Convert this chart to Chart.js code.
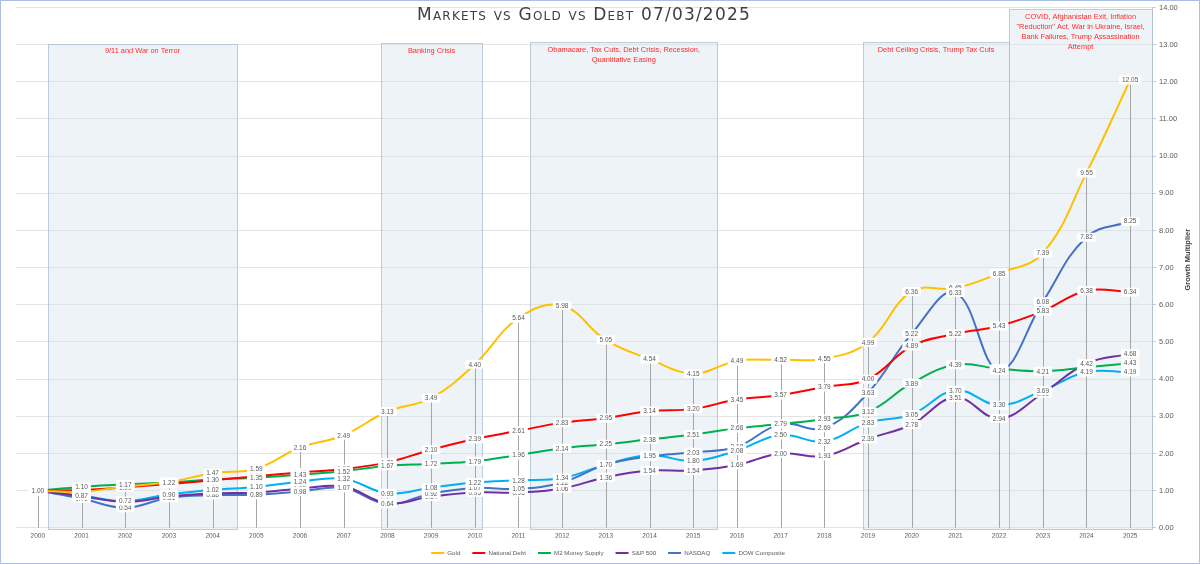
<!DOCTYPE html>
<html>
<head>
<meta charset="utf-8">
<title>Markets vs Gold vs Debt</title>
<script src="https://cdn.jsdelivr.net/npm/chart.js@4.4.1/dist/chart.umd.min.js"></script>
<style>
html, body { margin:0; padding:0; background:#fff; overflow:hidden; }
#wrap { width:1200px; height:564px; position:relative; }
</style>
</head>
<body>
<div id="wrap"><canvas id="growthChart" width="1200" height="564"></canvas></div>
<script>
// ==========================================
// Markets vs Gold vs Debt - growth since 2000
// ==========================================

const years = ["2000","2001","2002","2003","2004","2005","2006","2007","2008","2009","2010","2011","2012",
               "2013","2014","2015","2016","2017","2018","2019","2020","2021","2022","2023","2024","2025"];

const gold   = [1.00,0.97,1.11,1.23,1.47,1.59,2.16,2.49,3.13,3.49,4.40,5.64,5.98,5.05,4.54,4.15,4.49,4.52,4.55,4.99,6.36,6.45,6.85,7.39,9.55,12.05];
const debt   = [1.00,1.02,1.09,1.18,1.28,1.39,1.49,1.58,1.76,2.10,2.39,2.61,2.83,2.95,3.14,3.20,3.45,3.57,3.79,4.00,4.89,5.22,5.43,5.83,6.38,6.34];
const m2     = [1.00,1.10,1.17,1.22,1.30,1.35,1.43,1.52,1.67,1.72,1.79,1.96,2.14,2.25,2.38,2.51,2.68,2.79,2.93,3.12,3.89,4.39,4.28,4.21,4.32,4.43];
const sp500  = [1.00,0.85,0.70,0.84,0.92,0.95,1.05,1.11,0.66,0.84,0.95,0.95,1.06,1.36,1.54,1.54,1.69,2.00,1.93,2.39,2.78,3.51,2.94,3.62,4.42,4.68];
const nasdaq = [1.00,0.79,0.54,0.81,0.88,0.89,0.98,1.07,0.64,0.92,1.07,1.05,1.22,1.70,1.92,2.03,2.18,2.79,2.69,3.63,5.22,6.33,4.24,6.08,7.82,8.25];
const dow    = [1.00,0.87,0.72,0.90,1.02,1.10,1.24,1.32,0.93,1.08,1.22,1.28,1.34,1.70,1.95,1.80,2.08,2.50,2.32,2.83,3.05,3.70,3.30,3.69,4.19,4.19];

const yMin = 0;
const yMax = 14;
const yStep = 1;

// shaded periods, in category index units
const eventStart = [0.23, 7.85, 11.27, 18.89, 22.23];
const eventEnd   = [4.56, 10.17, 15.55, 22.23, 25.5];
const eventTop   = [13.02, 13.04, 13.06, 13.06, 13.95];
const eventText  = [
    ["9/11 and War on Terror"],
    ["Banking Crisis"],
    ["Obamacare, Tax Cuts, Debt Crisis, Recession,", "Quantitative Easing"],
    ["Debt Ceiling Crisis, Trump Tax Cuts"],
    ["COVID, Afghanistan Exit, Inflation", "\"Reduction\" Act, War in Ukraine, Israel,", "Bank Failures, Trump Assassination", "Attempt"]
];

const FONT = "'Liberation Sans', Arial, sans-serif";

// =====================================
// shaded event boxes + drop lines
// =====================================
const eventBoxes = {
    id: "eventBoxes",
    beforeDatasetsDraw(chart){
        const {ctx, scales:{x, y}} = chart;
        ctx.save();
        eventStart.forEach((s, i) => {
            const left = Math.round(x.getPixelForValue(s)) + 0.5;
            const right = Math.round(x.getPixelForValue(eventEnd[i])) + 0.5;
            const top = Math.round(y.getPixelForValue(eventTop[i])) + 0.5;
            const bottom = Math.round(y.getPixelForValue(yMin)) + 1.5;
            ctx.fillStyle = "rgba(214,227,238,0.42)";
            ctx.fillRect(left, top, right - left, bottom - top);
            ctx.strokeStyle = "rgba(170,188,212,0.75)";
            ctx.lineWidth = 1;
            ctx.strokeRect(left, top, right - left, bottom - top);
        });

        // drop lines from the highest point
        ctx.strokeStyle = "#a6a6a6";
        ctx.lineWidth = 1;
        ctx.beginPath();
        years.forEach((yr, i) => {
            const high = Math.max(...chart.data.datasets.map(d => d.data[i]));
            const px = Math.round(x.getPixelForValue(i)) + 0.5;
            ctx.moveTo(px, y.getPixelForValue(high));
            ctx.lineTo(px, y.getPixelForValue(yMin));
        });
        ctx.stroke();
        ctx.restore();
    },
    afterDatasetsDraw(chart){
        const {ctx, scales:{x, y}} = chart;
        ctx.save();
        ctx.font = "7.4px " + FONT;
        ctx.fillStyle = "#ff2a2a";
        ctx.textAlign = "center";
        ctx.textBaseline = "middle";
        eventStart.forEach((s, i) => {
            const cx = (x.getPixelForValue(s) + x.getPixelForValue(eventEnd[i])) / 2;
            const top = y.getPixelForValue(eventTop[i]);
            eventText[i].forEach((line, j) => {
                ctx.fillText(line, cx, top + 7.5 + j * 10);
            });
        });
        ctx.restore();
    }
};

// =====================================
// value labels with white boxes
// =====================================
const valueLabels = {
    id: "valueLabels",
    afterDatasetsDraw(chart){
        const ctx = chart.ctx;
        ctx.save();
        ctx.font = "6.5px " + FONT;
        ctx.textAlign = "center";
        ctx.textBaseline = "middle";
        chart.data.datasets.forEach((ds, di) => {
            const meta = chart.getDatasetMeta(di);
            meta.data.forEach((pt, i) => {
                const txt = ds.data[i].toFixed(2);
                const w = ctx.measureText(txt).width + 6;
                const h = 9;
                ctx.fillStyle = "#ffffff";
                ctx.beginPath();
                ctx.roundRect(pt.x - w / 2, pt.y - h / 2, w, h, 2);
                ctx.fill();
                ctx.fillStyle = "#595959";
                ctx.fillText(txt, pt.x, pt.y + 0.5);
            });
        });
        ctx.restore();
    }
};

// =====================================
// title, axis title, frame
// =====================================
const decorations = {
    id: "decorations",
    afterDraw(chart){
        const {ctx, chartArea} = chart;
        ctx.save();
        ctx.fillStyle = "#404040";
        ctx.textAlign = "center";
        ctx.textBaseline = "alphabetic";
        ctx.font = "small-caps 17px 'DejaVu Sans', sans-serif";
        ctx.letterSpacing = "1.2px";
        ctx.fillText("Markets vs Gold vs Debt 07/03/2025", 584, 19.5);
        ctx.letterSpacing = "0px";

        ctx.translate(1188, (chartArea.top + chartArea.bottom) / 2 - 8);
        ctx.rotate(-Math.PI / 2);
        ctx.font = "bold 7.5px " + FONT;
        ctx.textBaseline = "middle";
        ctx.fillText("Growth Multiplier", 0, 0);
        ctx.restore();

        ctx.save();
        ctx.strokeStyle = "#a9bfe6";
        ctx.lineWidth = 1;
        ctx.strokeRect(0.5, 0.5, chart.width - 1, chart.height - 1);
        ctx.restore();
    }
};

function line(label, data, color){
    return {
        label: label,
        data: data,
        borderColor: color,
        backgroundColor: color,
        borderWidth: 2,
        pointRadius: 0,
        pointHoverRadius: 0,
        tension: 0.4,
        fill: false
    };
}

new Chart(
    document.getElementById("growthChart"),
    {
        type: "line",
        data: {
            labels: years,
            datasets: [
                line("Gold", gold, "#FFC000"),
                line("National Debt", debt, "#FF0000"),
                line("M2 Money Supply", m2, "#00B050"),
                line("S&P 500", sp500, "#7030A0"),
                line("NASDAQ", nasdaq, "#4472C4"),
                line("DOW Composite", dow, "#00B0F0")
            ]
        },
        options: {
            responsive: false,
            animation: false,
            devicePixelRatio: 1,
            layout: { padding: { left: 16, top: 6, right: 0, bottom: -2 } },
            plugins: {
                title: { display: false },
                tooltip: { enabled: false },
                legend: {
                    position: "bottom",
                    labels: {
                        usePointStyle: true,
                        pointStyle: "line",
                        pointStyleWidth: 13,
                        boxHeight: 7,
                        padding: 12,
                        color: "#595959",
                        font: { size: 6.2, family: FONT }
                    }
                }
            },
            scales: {
                x: {
                    offset: true,
                    grid: { display: false, drawTicks: false },
                    border: { display: false },
                    ticks: {
                        color: "#595959",
                        font: { size: 6.5, family: FONT },
                        padding: 5,
                        maxRotation: 0,
                        autoSkip: false
                    },
                    afterFit(scale){ scale.height = 10; }
                },
                y: {
                    position: "right",
                    min: yMin,
                    max: yMax,
                    grid: {
                        color: "#e4e4e4",
                        tickColor: "#c9c5e2",
                        tickLength: 4
                    },
                    border: { color: "#c9c5e2" },
                    ticks: {
                        stepSize: yStep,
                        color: "#595959",
                        font: { size: 7.5, family: FONT },
                        padding: 3,
                        callback: v => Number(v).toFixed(2)
                    },
                    afterFit(scale){ scale.width = 48; }
                }
            }
        },
        plugins: [eventBoxes, valueLabels, decorations]
    }
);
</script>
</body>
</html>
